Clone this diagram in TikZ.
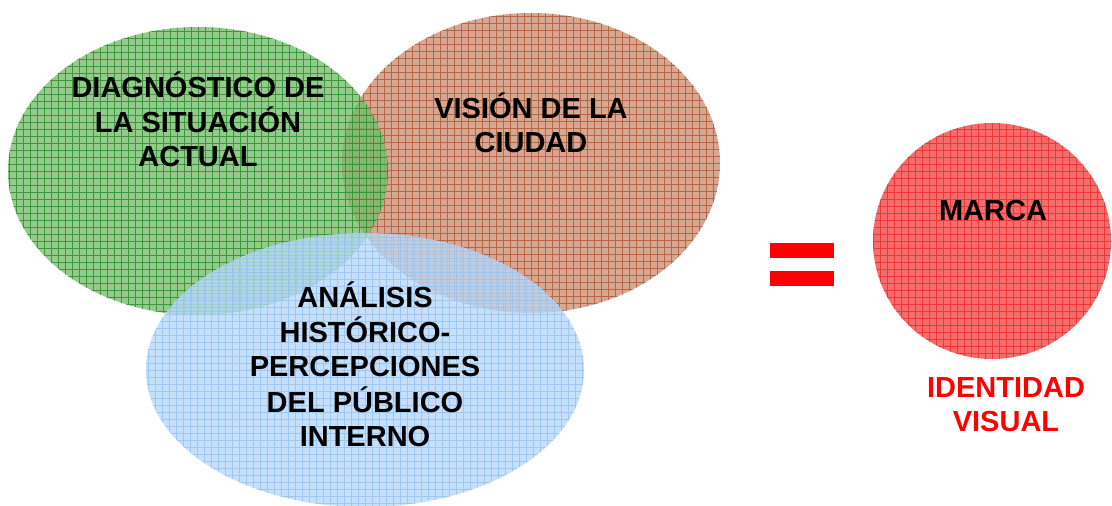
\documentclass[tikz,border=0pt]{standalone}
\usepackage{fontspec}
\setmainfont{Liberation Sans}
\usetikzlibrary{shapes.geometric}
\definecolor{gfill}{RGB}{120,190,112}
\definecolor{gline}{RGB}{40,140,40}
\definecolor{bfill}{RGB}{208,152,128}
\definecolor{bline}{RGB}{172,86,50}
\definecolor{lfill}{RGB}{184,217,250}
\definecolor{lline}{RGB}{148,194,240}
\definecolor{rfill}{RGB}{245,108,108}
\definecolor{rline}{RGB}{232,20,20}
\definecolor{eqred}{RGB}{255,0,0}
\newcommand{\mlines}[1]{\begin{tabular}[t]{@{}c@{}}#1\end{tabular}}
\tikzset{
  blob/.style={ellipse, inner sep=0pt, draw=none},
  gridfill/.style={path picture={\draw[#1, line width=0.6pt, step=7pt]
      (path picture bounding box.south west) grid (path picture bounding box.north east);}},
  txt/.style={font=\fontsize{29}{34}\selectfont\bfseries, inner sep=0pt, anchor=base},
  bar/.style={rectangle, fill=eqred, draw=none, inner sep=0pt, minimum width=64pt, minimum height=15pt},
}
\begin{document}
\begin{tikzpicture}[x=1pt,y=-1pt]
\useasboundingbox[fill=white] (0,0) rectangle (1112,506);
% circles
\node[blob, minimum width=378pt, minimum height=300pt, fill=bfill, fill opacity=0.85,
      gridfill={bline, draw opacity=0.8}] (vision) at (531,163) {};
\node[blob, minimum width=380pt, minimum height=288pt, fill=gfill, fill opacity=0.8,
      gridfill={gline, draw opacity=0.8}] (diag) at (198,171) {};
\node[blob, minimum width=438pt, minimum height=274pt, fill=lfill, fill opacity=0.8,
      gridfill={lline, draw opacity=0.8}] (anal) at (365,370) {};
\node[blob, minimum width=238pt, minimum height=236pt, fill=rfill,
      gridfill={rline, draw opacity=0.6}] (marca) at (992,241) {};
% equals sign
\node[bar] (eq1) at (802,250.5) {};
\node[bar] (eq2) at (802,278.5) {};
% texts
\node[txt] (tdiag) at (198,97) {\mlines{DIAGNÓSTICO DE\\LA SITUACIÓN\\ACTUAL}};
\node[txt] (tvision) at (531,118) {\mlines{VISIÓN DE LA\\CIUDAD}};
\node[txt] (tanal) at (365,307) {\mlines{ANÁLISIS\\HISTÓRICO-\\PERCEPCIONES\\DEL PÚBLICO\\INTERNO}};
\node[txt] (tmarca) at (993,220) {MARCA};
\node[txt, text=eqred] (tident) at (1006,397) {\mlines{IDENTIDAD\\VISUAL}};
\end{tikzpicture}
\end{document}
